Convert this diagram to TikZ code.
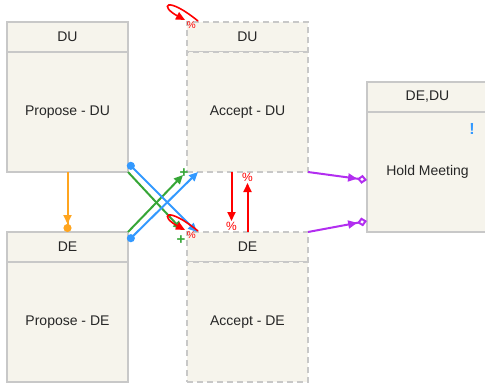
\documentclass[tikz,border=0pt]{standalone}
\usepackage{fontspec}
\setmainfont{Liberation Sans}
\usepackage{xcolor}
\usetikzlibrary{arrows.meta,positioning}
\definecolor{boxfill}{HTML}{F6F4EC}
\definecolor{boxline}{HTML}{C8C8C8}
\definecolor{flowblue}{HTML}{3399FF}
\definecolor{flowgreen}{HTML}{36A636}
\definecolor{floworange}{HTML}{FFA51F}
\definecolor{flowred}{HTML}{FF0000}
\definecolor{flowpurple}{HTML}{B22EF0}
\tikzstyle{head} = [rectangle, draw=boxline, fill=boxfill, line width=2.4pt, outer sep=0pt,
    minimum width=121pt, minimum height=30pt, text=black!85, font=\fontsize{14}{16}\selectfont]
\tikzstyle{body} = [head, minimum height=120pt]
\tikzstyle{dashedbox} = [dash pattern=on 6pt off 4pt]
\tikzstyle{flow} = [draw, line width=2pt]
\tikzstyle{pct} = [text=flowred, inner sep=0pt, font=\fontsize{12}{12}\selectfont]
\tikzstyle{cross} = [text=flowgreen, inner sep=0pt, font=\bfseries\fontsize{15}{15}\selectfont]

\begin{document}
\begin{tikzpicture}[x=1pt, y=-1pt, node distance=0pt]
	\useasboundingbox (0,0) rectangle (485,386);
	% Place nodes
	\node [head] (duProposeHead) at (67.5,37) {DU};
	\node [body, below=of duProposeHead] (duPropose) {Propose - DU};
	\node [head] (deProposeHead) at (67.5,247) {DE};
	\node [body, below=of deProposeHead] (dePropose) {Propose - DE};

	\node [head, dashedbox] (duAcceptHead) at (247.5,37) {DU};
	\node [body, dashedbox, below=of duAcceptHead] (duAccept) {Accept - DU};
	\node [head, dashedbox] (deAcceptHead) at (247.5,247) {DE};
	\node [body, dashedbox, below=of deAcceptHead] (deAccept) {Accept - DE};

	\node [head] (holdHead) at (427.5,97) {DE,DU};
	\node [body, below=of holdHead] (holdBody) {Hold Meeting};
	\node [text=flowblue, font=\bfseries\fontsize{16}{16}\selectfont] (holdFlag)
		at ([xshift=-16pt, yshift=-17pt]holdBody.north east) {!};

	% Draw edges
	\path [flow, draw=floworange, -{Triangle[length=9pt, width=8pt] Circle[length=8pt]}]
		(duPropose) -- (deProposeHead);

	\path [flow, draw=flowgreen, -{Triangle[length=9pt, width=8pt]}]
		(duPropose.south east) -- ([xshift=-5pt, yshift=2pt]deAcceptHead.north west)
		node [cross, anchor=north, xshift=-1pt, yshift=-5pt] {+};
	\path [flow, draw=flowgreen, -{Triangle[length=9pt, width=8pt]}]
		(deProposeHead.north east) -- ([xshift=-4pt, yshift=-3pt]duAccept.south west)
		node [cross, xshift=1pt, yshift=2pt] {+};

	\path [flow, draw=flowblue, {Circle[length=8pt]}-{Triangle[length=9pt, width=8pt]}]
		([yshift=9pt]duPropose.south east) -- ([xshift=10pt]deAcceptHead.north west);
	\path [flow, draw=flowblue, {Circle[length=8pt]}-{Triangle[length=9pt, width=8pt]}]
		([yshift=-9pt]deProposeHead.north east) -- ([xshift=11pt]duAccept.south west);

	\path [flow, draw=flowred, -{Triangle[length=9pt, width=8pt]}]
		([xshift=-16pt]duAccept.south) -- ([xshift=-16pt, yshift=11pt]deAcceptHead.north)
		node [pct, anchor=north] {\%};
	\path [flow, draw=flowred, -{Triangle[length=9pt, width=8pt]}]
		(deAcceptHead.north) -- ([yshift=-11pt]duAccept.south)
		node [pct, anchor=south] {\%};

	\path [flow, draw=flowred, line width=1.6pt, -{Triangle[length=9pt, width=8pt]}]
		([xshift=11pt, yshift=1pt]duAcceptHead.north west) .. controls +(-32,-26) and +(-26,-14) ..
		([xshift=-2pt, yshift=2pt]duAcceptHead.north west)
		node [pct, anchor=north west, xshift=1pt, yshift=-1pt, font=\fontsize{10}{10}\selectfont] {\%};
	\path [flow, draw=flowred, line width=1.6pt, -{Triangle[length=9pt, width=8pt]}]
		([xshift=11pt, yshift=1pt]deAcceptHead.north west) .. controls +(-32,-26) and +(-26,-14) ..
		([xshift=-2pt, yshift=2pt]deAcceptHead.north west)
		node [pct, anchor=north west, xshift=1pt, yshift=-1pt, font=\fontsize{10}{10}\selectfont] {\%};

	\path [flow, draw=flowpurple, -{Triangle[length=9pt, width=8pt] Diamond[open, length=10pt, width=9pt]}]
		(duAccept.south east) -- ([yshift=-8pt]holdBody.west);
	\path [flow, draw=flowpurple, -{Triangle[length=9pt, width=8pt] Diamond[open, length=10pt, width=9pt]}]
		(deAcceptHead.north east) -- ([yshift=11pt]holdBody.south west);
\end{tikzpicture}
\end{document}
